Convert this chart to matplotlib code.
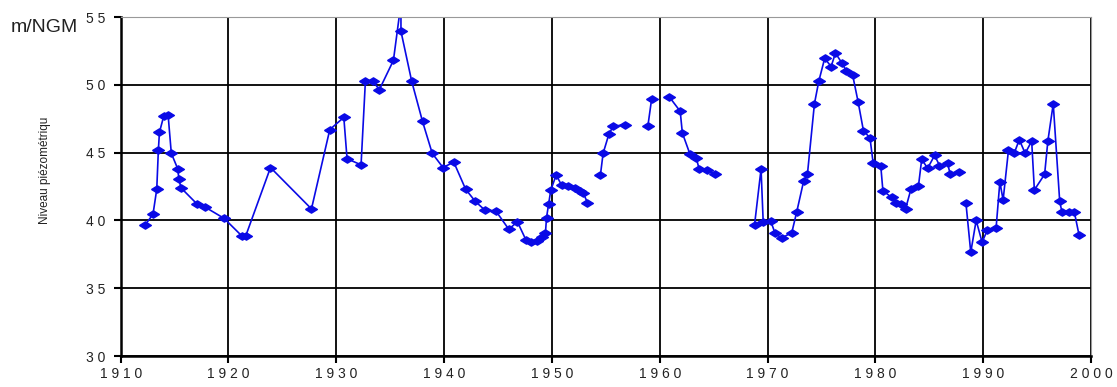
import numpy as np
import matplotlib.pyplot as plt

nan = np.nan

# piezometric level readings (year, m/NGM); NaN breaks the line where readings are missing
years = [1912.3, 1913.0, 1913.35, 1913.5, 1913.6, 1914.0, 1914.4, 1914.7, 1915.3, 1915.4,
         1915.6, 1917.1, 1917.8, 1919.6, 1921.25, 1921.6, 1923.9, 1927.7, 1929.4, 1930.7,
         1931.0, 1932.3, 1932.7, 1933.4, 1934.0, 1935.3, 1936.0, 1936.0, 1937.0, 1938.0,
         1938.9, 1939.9, 1940.9, 1942.0, 1942.9, 1943.8, 1944.8, 1946.0, 1946.8, 1947.6,
         1948.1, 1948.6, 1949.05, 1949.4, 1949.5, 1949.7, 1949.9, 1950.4, 1950.9, 1951.5,
         1952.1, 1952.6, 1952.9, 1953.3, 1953.9,
         1954.5, 1954.75, 1955.3, 1955.7, 1956.75, 1957.8,
         1958.9, 1959.25, 1960.1,
         1960.9, 1961.9, 1962.1, 1962.8, 1963.4, 1963.65, 1964.35, 1965.1, 1967.0,
         1968.8, 1969.4, 1969.6, 1970.3, 1970.7, 1971.3, 1972.25, 1972.7, 1973.35, 1973.7,
         1974.35, 1974.75, 1975.3, 1975.9, 1976.3, 1976.9, 1977.3, 1977.9, 1978.4, 1978.9,
         1979.5, 1979.8, 1980.5, 1980.7, 1981.5, 1981.9, 1982.4, 1982.8, 1983.3, 1984.0,
         1984.3, 1984.85, 1985.5, 1985.95, 1986.7, 1986.95, 1987.75, 1988.1,
         1988.4, 1988.85, 1989.35, 1989.9, 1990.4, 1991.2, 1991.55, 1991.85, 1992.35, 1992.9,
         1993.35, 1993.9, 1994.5, 1994.75, 1995.7, 1996.0, 1996.5, 1997.1, 1997.3, 1998.0,
         1998.45, 1998.9]
levels = [39.7, 40.45, 42.3, 45.2, 46.5, 47.7, 47.8, 44.95, 43.8, 43.05,
          42.4, 41.2, 41.0, 40.15, 38.85, 38.85, 43.9, 40.85, 46.7, 47.6,
          44.55, 44.1, 50.25, 50.25, 49.65, 51.8, 56.0, 53.95, 50.25, 47.3,
          44.95, 43.9, 44.3, 42.3, 41.4, 40.75, 40.7, 39.35, 39.9, 38.55,
          38.4, 38.45, 38.75, 39.05, 40.2, 41.2, 42.25, 43.35, 42.6, 42.55,
          42.4, 42.2, 42.05, 41.3, nan,
          43.35, 44.95, 46.4, 46.95, 47.05, nan,
          46.95, 48.95, nan,
          49.1, 48.05, 46.45, 44.9, 44.6, 43.8, 43.75, 43.4, nan,
          39.7, 43.8, 39.85, 39.95, 39.05, 38.7, 39.1, 40.6, 42.9, 43.4,
          48.6, 50.25, 51.95, 51.35, 52.35, 51.6, 51.05, 50.7, 48.75, 46.6,
          46.1, 44.2, 44.05, 42.2, 41.7, 41.3, 41.2, 40.85, 42.3, 42.55,
          44.5, 43.85, 44.8, 44.05, 44.2, 43.4, 43.6, nan,
          41.3, 37.65, 40.0, 38.4, 39.3, 39.45, 42.85, 41.5, 45.2, 45.0,
          45.95, 44.95, 45.85, 42.25, 43.4, 45.85, 48.6, 41.4, 40.65, 40.6,
          40.65, 38.9]

x_ticks = list(range(1910, 2001, 10))
y_ticks = list(range(30, 56, 5))

plt.rcParams['font.family'] = ['Liberation Sans', 'DejaVu Sans']

fig = plt.figure(figsize=(11.17, 3.87), dpi=100)
ax = fig.add_axes([0.108, 0.080, 0.8687, 0.876])

diamond = [(-1, 0), (0, 0.62), (1, 0), (0, -0.62), (-1, 0)]
ax.plot(years, levels, color='#0A0AE6', lw=1.2, marker=diamond, markersize=8.5,
        markerfacecolor='#0A0AE6', markeredgecolor='#0A0AE6', clip_on=True)

ax.set_xlim(1910, 2000)
ax.set_ylim(30, 55)
ax.set_xticks(x_ticks)
ax.set_yticks(y_ticks)
ax.set_xticklabels([' '.join(str(t)) for t in x_ticks], fontsize=10, color='#222222')
ax.set_yticklabels([' '.join(str(t)) for t in y_ticks], fontsize=10, color='#222222')
ax.tick_params(axis='both', direction='out', length=5, width=1.5, color='black')
ax.tick_params(axis='x', pad=3)
ax.tick_params(axis='y', pad=6)

ax.grid(True, color='black', lw=1.3)
ax.set_axisbelow(True)

ax.spines['left'].set_linewidth(1.8)
ax.spines['bottom'].set_linewidth(1.8)
ax.spines['top'].set_color('#999999')
ax.spines['right'].set_color('#999999')

fig.text(0.010, 0.93, 'm/NGM', fontsize=14, ha='left', va='center', color='#222222')
fig.text(0.040, 0.56, 'Niveau piézométriqu', fontsize=8.5, rotation=90,
         ha='center', va='center', color='#222222')

fig.savefig('out.png', dpi=100)
